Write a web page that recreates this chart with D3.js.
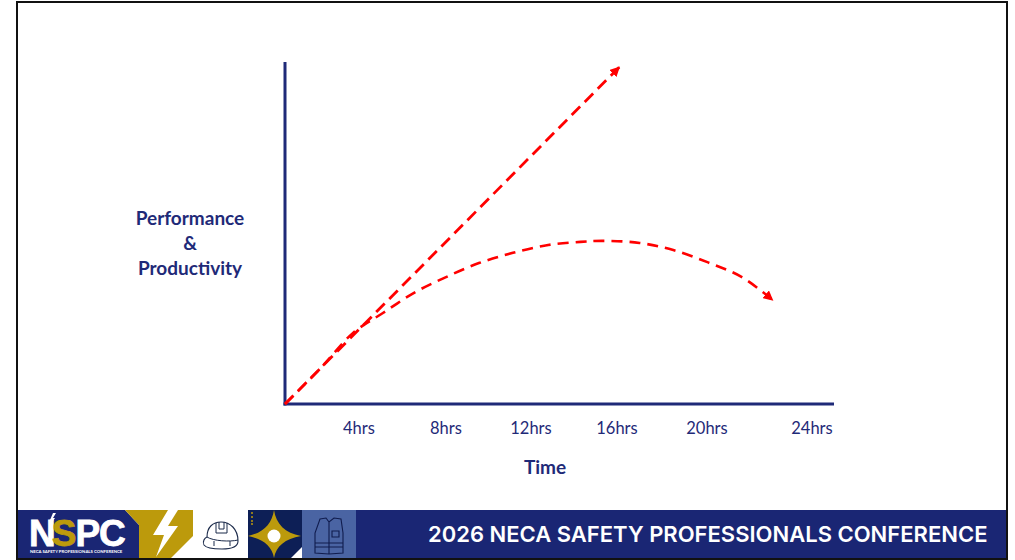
<!DOCTYPE html>
<html>
<head>
<meta charset="utf-8">
<script src="https://d3js.org/d3.v7.min.js"></script>
<style>
html, body {margin: 0; padding: 0; background: #fff;}
svg {display: block;}
text {font-family: "Lato", sans-serif;}
</style>
</head>
<body>
<div id="chart"></div>
<script>
// values
var tickHours = [4, 8, 12, 16, 20, 24];
var tickLabels = ["4hrs", "8hrs", "12hrs", "16hrs", "20hrs", "24hrs"];
var yLabelLines = ["Performance", "&", "Productivity"];
var xTitle = "Time";
var footerTitle = "2026 NECA SAFETY PROFESSIONALS CONFERENCE";

// hours / performance (0-100) along each dashed line
var straightHours = [0, 16.1];
var straightPerf = [0, 98.5];
var curveHours = [0, 1.9, 3.68, 5.1, 6.53, 8, 9.55, 11.15, 12.8, 14.3, 15.35, 17.0, 18.5, 20.04, 21.33, 22.5];
var curvePerf = [0, 10.3, 20.8, 26.6, 32.5, 37.1, 41.2, 44.2, 46.5, 47.4, 47.7, 47.1, 45, 41.4, 37.1, 30.4];

var width = 1015;
var height = 560;
var navy = "#1f2a78";
var red = "#ff0000";

var svg = d3.select("#chart").append("svg")
	.attr("width", width)
	.attr("height", height);

// the tick labels are not evenly spaced in the slide
var x = d3.scaleLinear()
	.domain([0, 4, 8, 12, 16, 20, 24])
	.range([285, 359, 446, 531, 617, 707, 812]);
var y = d3.scaleLinear()
	.domain([0, 100])
	.range([404, 62]);

// slide frame
svg.append("rect")
	.attr("x", 17)
	.attr("y", 2)
	.attr("width", 990)
	.attr("height", 557)
	.attr("fill", "#fff")
	.attr("stroke", "#111")
	.attr("stroke-width", 2);

// axes
svg.append("line")
	.attr("x1", 285).attr("y1", y(100))
	.attr("x2", 285).attr("y2", y(0) + 1.5)
	.attr("stroke", navy)
	.attr("stroke-width", 3);
svg.append("line")
	.attr("x1", 283.5).attr("y1", y(0))
	.attr("x2", 834).attr("y2", y(0))
	.attr("stroke", navy)
	.attr("stroke-width", 3);

svg.selectAll(".tick-label")
	.data(tickHours)
	.enter().append("text")
	.attr("class", "tick-label")
	.attr("x", function(d) { return x(d); })
	.attr("y", 433.5)
	.attr("text-anchor", "middle")
	.attr("font-size", 16.5)
	.attr("fill", navy)
	.text(function(d, i) { return tickLabels[i]; });

svg.append("text")
	.attr("x", 545)
	.attr("y", 474)
	.attr("text-anchor", "middle")
	.attr("font-size", 19)
	.attr("font-weight", 700)
	.attr("fill", navy)
	.text(xTitle);

svg.selectAll(".y-label")
	.data(yLabelLines)
	.enter().append("text")
	.attr("class", "y-label")
	.attr("x", 190)
	.attr("y", function(d, i) { return 224.5 + i * 25; })
	.attr("text-anchor", "middle")
	.attr("font-size", 19)
	.attr("font-weight", 700)
	.attr("fill", navy)
	.text(function(d) { return d; });

// arrow head
svg.append("defs").append("marker")
	.attr("id", "arrow")
	.attr("viewBox", "0 0 10 10")
	.attr("refX", 9)
	.attr("refY", 5)
	.attr("markerWidth", 10)
	.attr("markerHeight", 10)
	.attr("markerUnits", "userSpaceOnUse")
	.attr("orient", "auto")
	.append("path")
	.attr("d", "M0,0L10,5L0,10Z")
	.attr("fill", red);

var straightLine = d3.line()
	.x(function(d) { return x(d); })
	.y(function(d, i) { return y(straightPerf[i]); });

var curveLine = d3.line()
	.x(function(d) { return x(d); })
	.y(function(d, i) { return y(curvePerf[i]); })
	.curve(d3.curveCatmullRom);

svg.append("path")
	.attr("d", straightLine(straightHours))
	.attr("fill", "none")
	.attr("stroke", red)
	.attr("stroke-width", 2.8)
	.attr("stroke-dasharray", "12 6.5")
	.attr("marker-end", "url(#arrow)");

svg.append("path")
	.attr("d", curveLine(curveHours))
	.attr("fill", "none")
	.attr("stroke", red)
	.attr("stroke-width", 2.6)
	.attr("stroke-dasharray", "11 7")
	.attr("marker-end", "url(#arrow)");

// footer band and logo strip
var footer = svg.append("g");
footer.append("rect").attr("x", 18).attr("y", 510).attr("width", 988).attr("height", 48).attr("fill", "#1a2674");
footer.append("rect").attr("x", 125).attr("y", 510).attr("width", 231).attr("height", 48).attr("fill", "#fff");
footer.append("path").attr("d", "M125,510L139,525L139,558L18,558L18,510Z").attr("fill", "#1a2674");
footer.append("path").attr("d", "M125,510L193,510L193,536L171,558L139,558L139,525Z").attr("fill", "#bc9a0c");
footer.append("path").attr("d", "M168,510L178,510L168,526L178,526L156,557L164,535L153,535Z").attr("fill", "#fff");

// helmet
footer.append("path")
	.attr("d", "M204,545C202,541 205,538 207,537C207,527 213,522 221,522C230,522 238,529 238,541C238,546 234,549 222,549C212,549 206,548 204,545Z")
	.attr("fill", "#fff").attr("stroke", "#1b2a4a").attr("stroke-width", 1.1);
footer.append("path").attr("d", "M207,537C213,541 230,542 238,540M216,523L216,533L227,533L227,523M219,522L219,529L224,529L224,522M214,541L214,546M230,541L230,546")
	.attr("fill", "none").attr("stroke", "#1b2a4a").attr("stroke-width", 1);

// star block
footer.append("rect").attr("x", 248).attr("y", 510).attr("width", 54).attr("height", 48).attr("fill", "#0d1f56");
footer.append("path").attr("d", "M302,547L302,558L291,558Z").attr("fill", "#fff");
footer.append("path").attr("d", "M274,510C276,524 285,533 301,536C285,539 276,546 274,558C272,546 263,539 248,536C263,533 272,524 274,510Z").attr("fill", "#bc9a0c");
footer.append("circle").attr("cx", 274).attr("cy", 536).attr("r", 6.5).attr("fill", "#fff");
footer.selectAll(".dot").data([513, 517, 521, 524]).enter().append("circle")
	.attr("cx", 252).attr("cy", function(d) { return d; }).attr("r", 1).attr("fill", "#bc9a0c");

// vest block
footer.append("rect").attr("x", 302).attr("y", 510).attr("width", 54).attr("height", 48).attr("fill", "#4a64a3");
footer.append("path")
	.attr("d", "M320,519L326,518L329,522L334,518L341,519L343,533L343,553L329,554L315,553L315,533ZM329,522L329,554M315,543L343,543M315,547L343,547M332,531H339V537H332Z")
	.attr("fill", "none").attr("stroke", "#101c4e").attr("stroke-width", 1.1);

// NSPC wordmark
var mark = footer.append("text")
	.attr("x", 29)
	.attr("y", 546)
	.attr("font-size", 37)
	.attr("font-weight", 700)
	.attr("letter-spacing", -1)
	.attr("fill", "#fff")
	.attr("stroke", "#fff")
	.attr("stroke-width", 0.8)
	.style("font-family", "'Liberation Sans', sans-serif");
mark.append("tspan").text("N");
mark.append("tspan").attr("fill", "#bc9a0c").attr("stroke", "#bc9a0c").attr("dx", -3).text("S");
mark.append("tspan").text("PC");
footer.append("path").attr("d", "M53,513L50,520L52,520L49,527L55,518L53,518L56,513Z").attr("fill", "#fff");
footer.append("text")
	.attr("x", 30)
	.attr("y", 552.5)
	.attr("font-size", 4.3)
	.attr("font-weight", 700)
	.attr("fill", "#fff")
	.text("NECA SAFETY PROFESSIONALS CONFERENCE");

footer.append("text")
	.attr("x", 428)
	.attr("y", 542)
	.attr("font-size", 22)
	.attr("font-weight", 600)
	.attr("fill", "#fff")
	.style("font-family", "Inter, sans-serif")
	.text(footerTitle);
</script>
</body>
</html>
